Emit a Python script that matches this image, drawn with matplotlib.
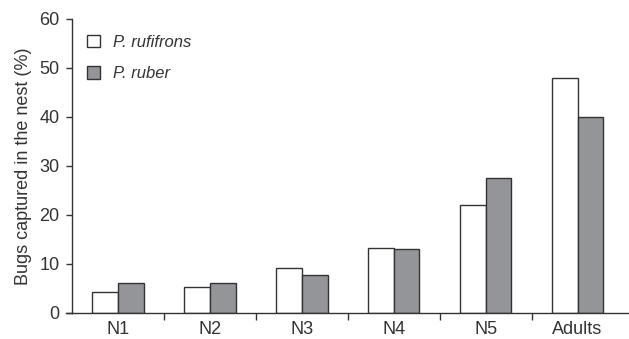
import numpy as np
import matplotlib
matplotlib.use("Agg")
import matplotlib.pyplot as plt

stages = ["N1", "N2", "N3", "N4", "N5", "Adults"]
rufifrons = [4.2, 5.2, 9.1, 13.3, 22.0, 48.0]
ruber = [6.1, 6.2, 7.7, 13.0, 27.5, 40.0]

ink = "#333333"
plt.rcParams["font.family"] = "Liberation Sans"

fig = plt.figure(figsize=(6.29, 3.39), dpi=100)
ax = fig.add_axes([0.1145, 0.077, 0.8855, 0.867])

x = np.arange(len(stages))
w = 0.28
ax.bar(x - w / 2, rufifrons, w, color="white", edgecolor=ink, linewidth=1.0, label="P. rufifrons")
ax.bar(x + w / 2, ruber, w, color="#939598", edgecolor=ink, linewidth=1.0, label="P. ruber")

ax.set_xlim(-0.5, 5.56)
ax.set_ylim(0, 60)
ax.set_yticks(range(0, 61, 10))
ax.set_xticks(np.arange(0.5, 5, 1))
ax.set_xticklabels([])
ax.set_xticks(x, minor=True)
ax.set_xticklabels(stages, minor=True)
ax.tick_params(axis="x", which="minor", length=0, pad=6, labelsize=13, colors=ink)
ax.tick_params(axis="x", which="major", length=5, width=1, colors=ink)
ax.tick_params(axis="y", length=4, width=1, labelsize=13, colors=ink, pad=5)

for s in ["top", "right"]:
    ax.spines[s].set_visible(False)
for s in ["left", "bottom"]:
    ax.spines[s].set_color(ink)
    ax.spines[s].set_linewidth(1)
# x axis line runs a little past the y axis
ax.plot([-0.01, 0], [0, 0], color=ink, lw=1, transform=ax.transAxes, clip_on=False)

ax.set_ylabel("Bugs captured in the nest (%)", fontsize=13, color=ink, labelpad=5)

leg = ax.legend(loc="upper left", bbox_to_anchor=(0.0, 0.998), frameon=False,
                handlelength=0.75, handleheight=0.75, handletextpad=0.8,
                labelspacing=1.0, prop={"style": "italic", "size": 12})
for t in leg.get_texts():
    t.set_color(ink)

plt.savefig("out.png", dpi=100)
